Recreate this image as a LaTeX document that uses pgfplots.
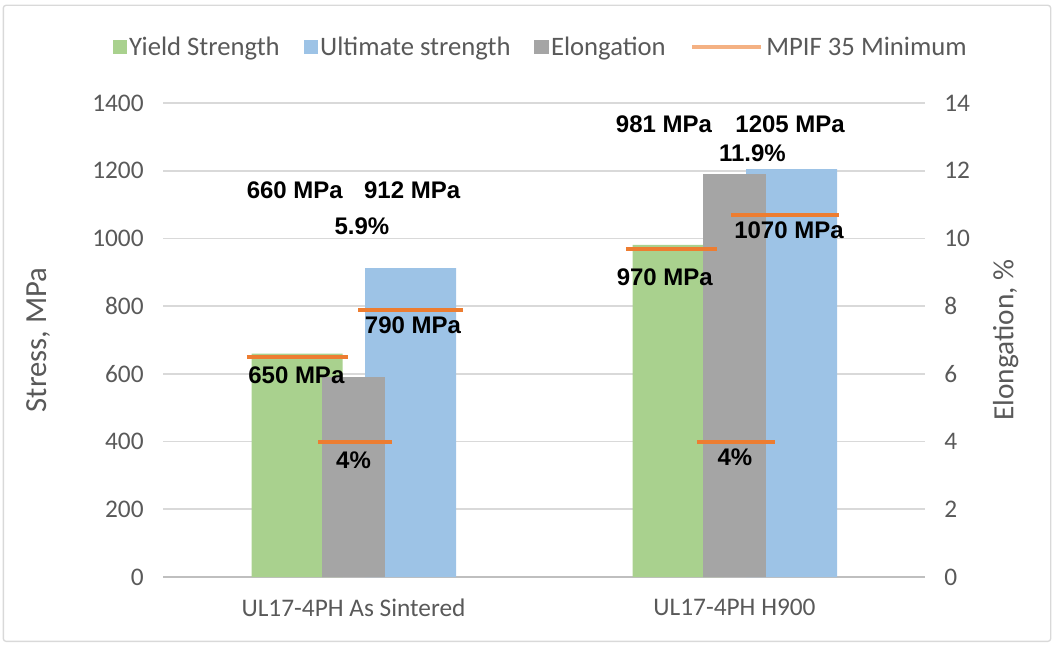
\documentclass[border=0pt]{standalone}
\usepackage{fontspec}
\setmainfont{Carlito}
\newfontfamily\labfont{Liberation Sans}
\usepackage{pgfplots}
\pgfplotsset{compat=1.18}
\definecolor{ygreen}{HTML}{A9D18E}
\definecolor{ublue}{HTML}{9DC3E6}
\definecolor{egray}{HTML}{A5A5A5}
\definecolor{morange}{HTML}{ED7D31}
\definecolor{lorange}{HTML}{F4B183}
\definecolor{txtgray}{HTML}{595959}
\definecolor{gridgray}{HTML}{D9D9D9}
\definecolor{axgray}{HTML}{BFBFBF}
\newcommand\lab{\labfont\bfseries\fontsize{18}{21}\selectfont}
\pgfplotsset{
  base/.style={
    width=571.5pt, height=355.5pt, scale only axis,
    at={(122.25pt,-432.75pt)}, anchor=south west,
    xmin=-0.5, xmax=1.5, clip=false,
    major tick length=0pt,
    tick label style={font=\fontsize{19}{22}\selectfont, text=txtgray},
    /pgf/number format/assume math mode=true,
    /pgf/number format/1000 sep={},
  }
}
\begin{document}
\begin{tikzpicture}
\path[use as bounding box] (0,0) rectangle (790.5pt,-483.75pt);
\draw[gridgray, line width=1pt, rounded corners=2pt] (2.5pt,-4pt) rectangle (788pt,-481pt);

% primary axis: strengths
\begin{axis}[base,
  ymin=0, ymax=1400, ytick={0,200,...,1400},
  axis x line*=bottom, axis y line*=left,
  y axis line style={draw=none},
  x axis line style={draw=axgray, line width=1.2pt, -},
  ymajorgrids, grid style={gridgray, line width=1.2pt},
  xtick={0,1}, xticklabels={UL17-4PH As Sintered, UL17-4PH H900},
  yticklabel style={xshift=-11pt},
  xticklabel style={yshift=-13pt},
  ylabel={Stress, MPa},
  ylabel style={at={(axis description cs:-0.164,0.5)}, anchor=center,
    font=\fontsize{23}{27}\selectfont, text=txtgray},
]
\addplot[ybar, bar width=0.239, bar shift=-0.148, fill=ygreen, draw=none]
  coordinates {(0,660) (1,981)};
\addplot[ybar, bar width=0.239, bar shift=0.150, fill=ublue, draw=none]
  coordinates {(0,912) (1,1205)};
\end{axis}

% secondary axis: elongation
\begin{axis}[base,
  ymin=0, ymax=14, ytick={0,2,...,14},
  axis y line*=right, axis x line=none,
  y axis line style={draw=none},
  yticklabel style={xshift=11pt},
  ylabel={Elongation, \%},
  ylabel style={at={(axis description cs:1.106,0.5)}, anchor=center, rotate=0,
    font=\fontsize{22}{26}\selectfont, text=txtgray},
]
\addplot[ybar, bar width=0.165, bar shift=0, fill=egray, draw=none]
  coordinates {(0,5.9) (1,11.9)};
\addplot[morange, line width=3pt] coordinates {(-0.093,4) (0.101,4)};
\addplot[morange, line width=3pt] coordinates {(0.902,4) (1.107,4)};
\end{axis}

% overlay on primary scale: MPIF minima, labels, legend
\begin{axis}[base,
  ymin=0, ymax=1400, hide axis,
  legend columns=4,
  legend style={draw=none, fill=none, at={(0.496,1.118)}, anchor=center,
    font=\fontsize{20}{24}\selectfont, text=txtgray,
    /tikz/every even column/.append style={column sep=16pt}},
  legend cell align=left,
]
\addplot[morange, line width=3pt, forget plot] coordinates {(-0.280,650) (-0.014,650)};
\addplot[morange, line width=3pt, forget plot] coordinates {(0.012,790) (0.287,790)};
\addplot[morange, line width=3pt, forget plot] coordinates {(0.715,970) (0.954,970)};
\addplot[morange, line width=3pt, forget plot] coordinates {(0.990,1070) (1.274,1070)};
\addlegendimage{legend image code/.code={\fill[ygreen] (0pt,-5pt) rectangle (10pt,5pt);}}
\addlegendentry{Yield Strength}
\addlegendimage{legend image code/.code={\fill[ublue] (0pt,-5pt) rectangle (10pt,5pt);}}
\addlegendentry{Ultimate strength}
\addlegendimage{legend image code/.code={\fill[egray] (0pt,-5pt) rectangle (10pt,5pt);}}
\addlegendentry{Elongation}
\addlegendimage{legend image code/.code={\draw[lorange, line width=3.5pt] (0pt,0pt) -- (52pt,0pt);}}
\addlegendentry{MPIF 35 Minimum}
\node[font=\lab] at (axis cs:-0.154,1143) {660 MPa};
\node[font=\lab] at (axis cs:0.154,1143) {912 MPa};
\node[font=\lab] at (axis cs:0.022,1037) {5.9\%};
\node[font=\lab] at (axis cs:-0.150,597) {650 MPa};
\node[font=\lab] at (axis cs:0.156,744) {790 MPa};
\node[font=\lab] at (axis cs:0.0,345) {4\%};
\node[font=\lab] at (axis cs:0.815,1338) {981 MPa};
\node[font=\lab] at (axis cs:1.146,1338) {1205 MPa};
\node[font=\lab] at (axis cs:1.047,1252) {11.9\%};
\node[font=\lab] at (axis cs:0.817,886) {970 MPa};
\node[font=\lab] at (axis cs:1.143,1025) {1070 MPa};
\node[font=\lab] at (axis cs:1.001,354) {4\%};
\end{axis}
\end{tikzpicture}
\end{document}
